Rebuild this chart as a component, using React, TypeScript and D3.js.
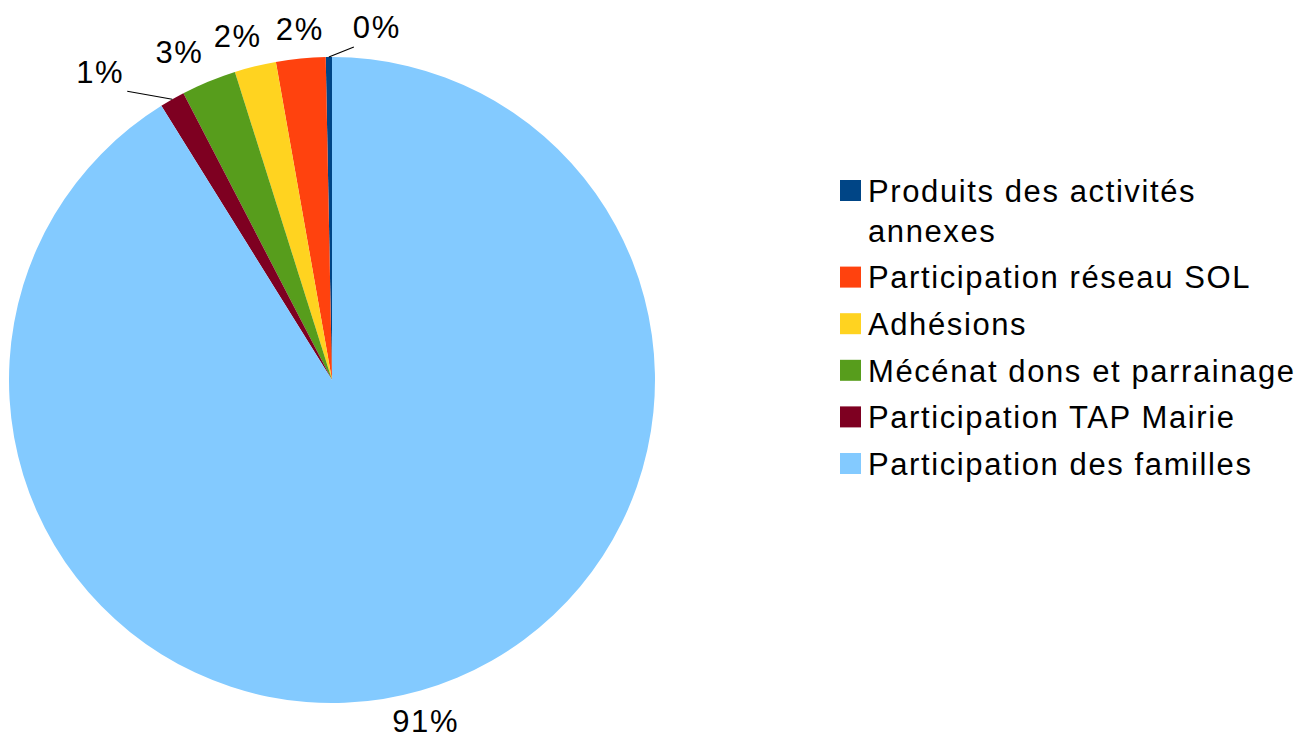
import React from "react";
import * as d3 from "d3";

const categories = [
  "Produits des activités annexes",
  "Participation réseau SOL",
  "Adhésions",
  "Mécénat dons et parrainage",
  "Participation TAP Mairie",
  "Participation des familles",
];
const legendLines = [
  ["Produits des activités", "annexes"],
  ["Participation réseau SOL"],
  ["Adhésions"],
  ["Mécénat dons et parrainage"],
  ["Participation TAP Mairie"],
  ["Participation des familles"],
];
const values = [0.31, 2.47, 2.08, 2.75, 1.25, 91.14];
const percentLabels = ["0%", "2%", "2%", "3%", "1%", "91%"];
const colors = ["#004586", "#ff420e", "#ffd320", "#579d1c", "#7e0021", "#83caff"];

// label placement config: angle shift (deg, clockwise) and radial distance of label centre beyond the rim
const labelShift = [0, 0.19, -1.7, -2.6, 0, 0.7];
const labelRadial = [0, 28.9, 33.6, 39, 0, 30.2];
// leader-line labels (offsets from arc point), null = normal outside label
const leaderOffsets: ({ dx: number; dy: number; anchor: string } | null)[] = [
  { dx: 25, dy: -10, anchor: "start" },
  null,
  null,
  null,
  { dx: -45, dy: -8, anchor: "end" },
  null,
];

const W = 1304;
const H = 736;
const cx = 332;
const cy = 380;
const R = 323;
const FONT = "'Liberation Sans', Arial, sans-serif";
const FS = 31;
const LS = 1.6;
const CAP = 21.7;

export default function App() {
  const pie = d3
    .pie<number>()
    .sort(null)
    .value((d) => d)
    .startAngle(0)
    .endAngle(-2 * Math.PI);
  const arcs = pie(values);
  const arcGen = d3.arc<d3.PieArcDatum<number>>().innerRadius(0).outerRadius(R);
  const rad = Math.PI / 180;

  return (
    <svg
      width={W}
      height={H}
      style={{ position: "absolute", left: 0, top: 0, background: "#fff" }}
      fontFamily={FONT}
    >
      <g transform={`translate(${cx},${cy})`}>
        {arcs.map((a, i) => (
          <path key={i} d={arcGen(a) || ""} fill={colors[i]} />
        ))}
      </g>
      {arcs.map((a, i) => {
        const mid = (a.startAngle + a.endAngle) / 2;
        const lead = leaderOffsets[i];
        if (lead) {
          const px = cx + R * Math.sin(mid);
          const py = cy - R * Math.cos(mid);
          const ex = px + lead.dx;
          const ey = py + lead.dy;
          return (
            <g key={i}>
              <line x1={px} y1={py} x2={ex} y2={ey} stroke="#000" strokeWidth={1.2} />
              <text
                x={lead.anchor === "start" ? ex - 1 : ex - 3}
                y={ey - 8.7}
                fontSize={FS}
                letterSpacing={LS}
                textAnchor={lead.anchor}
                fill="#000"
              >
                {percentLabels[i]}
              </text>
            </g>
          );
        }
        const ang = mid + labelShift[i] * rad;
        const d = R + labelRadial[i];
        const lx = cx + d * Math.sin(ang);
        const ly = cy - d * Math.cos(ang);
        return (
          <text
            key={i}
            x={lx + LS / 2}
            y={ly + CAP / 2}
            fontSize={FS}
            letterSpacing={LS}
            textAnchor="middle"
            fill="#000"
          >
            {percentLabels[i]}
          </text>
        );
      })}
      <g>
        {categories.map((c, i) => {
          const base = i === 0 ? 201.7 : 241.7 + 46.6 * i;
          return (
            <g key={c}>
              <rect x={840} y={base - CAP} width={21} height={21} fill={colors[i]} />
              {legendLines[i].map((ln, j) => (
                <text
                  key={j}
                  x={868}
                  y={base + j * 40}
                  fontSize={FS}
                  letterSpacing={LS}
                  fill="#000"
                >
                  {ln}
                </text>
              ))}
            </g>
          );
        })}
      </g>
    </svg>
  );
}
